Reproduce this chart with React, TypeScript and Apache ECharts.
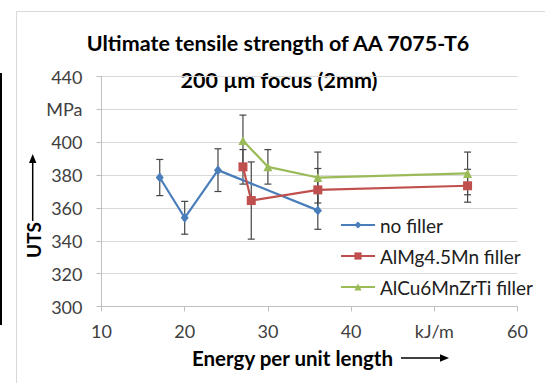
import React, { useEffect, useRef } from "react";
import * as echarts from "echarts";

// ---- data ----
const seriesNames = ["no filler", "AlMg4.5Mn filler", "AlCu6MnZrTi filler"];
const noFillerX = [17, 20, 24, 36];
const noFillerY = [378.5, 354, 383, 358.5];
const noFillerErr = [11, 10, 13, 11.5];
const almgX = [27, 28, 36, 54];
const almgY = [385, 364.5, 371, 373.5];
const almgErr = [10.5, 23.5, 13, 10];
const alcuX = [27, 30, 36, 54];
const alcuY = [401, 385, 378.5, 381];
const alcuErr = [15.5, 10.5, 15.5, 13];
const yLabelMap: Record<string, string> = { "420": "MPa" };
const xLabelMap: Record<string, string> = { "50": "kJ/m" };
const titleLine1 = "Ultimate tensile strength of AA 7075-T6";
const titleLine2 = "200 µm focus (2mm)";
const xName = "Energy per unit length";
const yName = "UTS";

const colors = ["#4A7EBB", "#C0504D", "#9BBB59"];
const FONT = "Lato";
const TXT = "#404040";

function pts(xs: number[], ys: number[]) {
  return xs.map((x, i) => [x, ys[i]]);
}
function errPts(xs: number[], ys: number[], es: number[]) {
  return xs.map((x, i) => [x, ys[i], es[i]]);
}

function errorSeries(data: number[][]) {
  return {
    type: "custom",
    z: 1,
    silent: true,
    encode: { x: 0, y: 1 },
    data,
    renderItem: (params: any, api: any) => {
      const x = api.value(0);
      const y = api.value(1);
      const e = api.value(2);
      const top = api.coord([x, y + e]);
      const bot = api.coord([x, y - e]);
      const c = 3.5;
      const st = { stroke: "#454545", lineWidth: 1.2 };
      return {
        type: "group",
        children: [
          { type: "line", shape: { x1: top[0], y1: top[1], x2: bot[0], y2: bot[1] }, style: st },
          { type: "line", shape: { x1: top[0] - c, y1: top[1], x2: top[0] + c, y2: top[1] }, style: st },
          { type: "line", shape: { x1: bot[0] - c, y1: bot[1], x2: bot[0] + c, y2: bot[1] }, style: st },
        ],
      };
    },
  };
}

export default function App() {
  const ref = useRef<HTMLDivElement>(null);
  useEffect(() => {
    if (!ref.current) return;
    const chart = echarts.init(ref.current, null, { renderer: "svg" });
    const lineSeries = (name: string, data: number[][], color: string, symbol: string, size: any) => ({
      type: "line",
      name,
      data,
      z: 3,
      symbol,
      symbolSize: size,
      showAllSymbol: true,
      lineStyle: { color, width: 2.2 },
      itemStyle: { color },
    });
    chart.setOption({
      animation: false,
      backgroundColor: "#ffffff",
      textStyle: { fontFamily: FONT },
      grid: { left: 101.5, right: 27.5, top: 76.5, bottom: 76.5, containLabel: false },
      xAxis: {
        type: "value",
        min: 10,
        max: 60,
        interval: 10,
        axisLine: { show: true, lineStyle: { color: "#BFBFBF", width: 1 } },
        axisTick: { show: true, length: 5, lineStyle: { color: "#BFBFBF" } },
        splitLine: { show: false },
        axisLabel: {
          margin: 15,
          color: TXT,
          fontSize: 18,
          fontFamily: FONT,
          formatter: (v: number) => {
            const k = String(v);
            return xLabelMap[k] ? "{u|" + xLabelMap[k] + "}" : k;
          },
          rich: { u: { fontSize: 18, fontFamily: FONT, color: TXT, padding: [0, 0, 6, 0] } },
        },
      },
      yAxis: {
        type: "value",
        min: 300,
        max: 440,
        interval: 20,
        axisLine: { show: true, lineStyle: { color: "#BFBFBF", width: 1 } },
        axisTick: { show: true, length: 5, lineStyle: { color: "#BFBFBF" } },
        splitLine: { show: true, lineStyle: { color: "#D9D9D9", width: 1 } },
        axisLabel: {
          margin: 19,
          color: TXT,
          fontSize: 18,
          fontFamily: FONT,
          formatter: (v: number) => yLabelMap[String(v)] ?? String(v),
        },
      },
      legend: {
        orient: "vertical",
        left: 340,
        top: 215,
        padding: 0,
        itemWidth: 34,
        itemHeight: 9,
        itemGap: 11,
        data: seriesNames,
        textStyle: { fontSize: 19, fontFamily: FONT, color: "#202020", lineHeight: 20 },
      },
      graphic: [
        { type: "rect", shape: { x: 16.5, y: 11.5, width: 700, height: 500 }, style: { fill: "none", stroke: "#D9D9D9", lineWidth: 1 }, silent: true },
        { type: "rect", shape: { x: 0, y: 73, width: 2, height: 252 }, style: { fill: "#000" }, silent: true },
        { type: "text", x: 278, y: 43, style: { text: titleLine1, font: `bold 21.5px ${FONT}`, fill: "#000", align: "center", verticalAlign: "middle" } },
        { type: "text", x: 279, y: 80, style: { text: titleLine2, font: `bold 21.5px ${FONT}`, fill: "#000", align: "center", verticalAlign: "middle" } },
        { type: "text", x: 33, y: 240, rotation: Math.PI / 2, style: { text: yName, font: `bold 19px ${FONT}`, fill: "#000", align: "center", verticalAlign: "middle" } },
        { type: "line", shape: { x1: 32.7, y1: 221, x2: 32.7, y2: 160 }, style: { stroke: "#000", lineWidth: 1.5 } },
        { type: "polygon", shape: { points: [[32.7, 154], [29, 163], [36.4, 163]] }, style: { fill: "#000" } },
        { type: "text", x: 292.5, y: 358, style: { text: xName, font: `bold 20.5px ${FONT}`, fill: "#000", align: "center", verticalAlign: "middle" } },
        { type: "line", shape: { x1: 401, y1: 358, x2: 442, y2: 358 }, style: { stroke: "#000", lineWidth: 1.5 } },
        { type: "polygon", shape: { points: [[449, 358], [440, 354.3], [440, 361.7]] }, style: { fill: "#000" } },
      ],
      series: [
        errorSeries(errPts(noFillerX, noFillerY, noFillerErr)),
        errorSeries(errPts(almgX, almgY, almgErr)),
        errorSeries(errPts(alcuX, alcuY, alcuErr)),
        lineSeries(seriesNames[0], pts(noFillerX, noFillerY), colors[0], "diamond", [8, 10]),
        lineSeries(seriesNames[1], pts(almgX, almgY), colors[1], "rect", 9),
        lineSeries(seriesNames[2], pts(alcuX, alcuY), colors[2], "triangle", 9),
      ],
    });
    return () => chart.dispose();
  }, []);
  return <div ref={ref} style={{ position: "fixed", left: 0, top: 0, width: 545, height: 383 }} />;
}
